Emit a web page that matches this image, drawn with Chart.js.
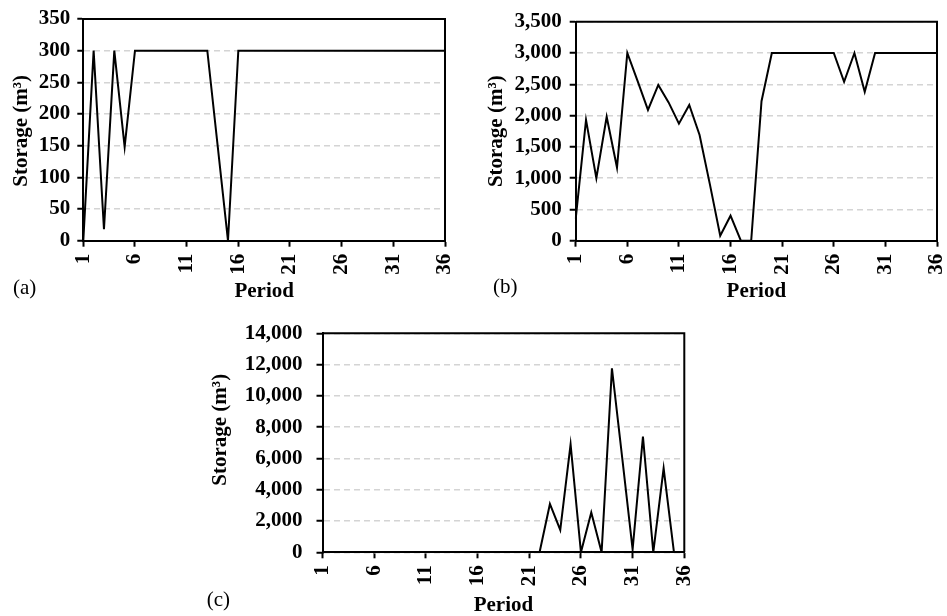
<!DOCTYPE html>
<html>
<head>
<meta charset="utf-8">
<script src="https://cdn.jsdelivr.net/npm/chart.js@4/dist/chart.umd.min.js"></script>
<style>
  html, body { margin: 0; padding: 0; background: #fff; overflow: hidden; width: 947px; height: 616px; }
  canvas { position: absolute; }
  #cA { left: 0px; top: 0px; }
  #cB { left: 470px; top: 0px; }
  #cC { left: 190px; top: 305px; }
</style>
</head>
<body>
<canvas id="cA" width="470" height="300"></canvas>
<canvas id="cB" width="510" height="300"></canvas>
<canvas id="cC" width="530" height="311"></canvas>
<script>
// Periods (categories) and the labelled ones on the x axis
const periods = ['1','2','3','4','5','6','7','8','9','10','11','12','13','14','15','16','17','18',
                 '19','20','21','22','23','24','25','26','27','28','29','30','31','32','33','34','35','36'];
const xTickLabels = ['1','6','11','16','21','26','31','36'];

// Storage (m³) per period
const storageA = [0, 300, 18, 300, 148, 300, 300, 300, 300, 300, 300, 300, 300, 150, 0, 300,
                  300, 300, 300, 300, 300, 300, 300, 300, 300, 300, 300, 300, 300, 300, 300, 300, 300, 300, 300, 300];
const storageB = [350, 1930, 1000, 1980, 1170, 3000, 2550, 2090, 2490, 2210, 1870, 2170, 1690, 900, 80, 400,
                  0, 0, 2230, 3000, 3000, 3000, 3000, 3000, 3000, 3000, 2540, 3000, 2380, 3000,
                  3000, 3000, 3000, 3000, 3000, 3000];
const storageC = [0, 0, 0, 0, 0, 0, 0, 0, 0, 0, 0, 0, 0, 0, 0, 0, 0, 0, 0, 0, 0, 0,
                  3090, 1430, 6900, 0, 2540, 0, 11760, 6000, 190, 7390, 0, 5370, 0, 0];

// Value-axis ranges
const yMaxA = 350, yStepA = 50;
const yMaxB = 3500, yStepB = 500;
const yMaxC = 14000, yStepC = 2000;

const panelLabels = ['(a)', '(b)', '(c)'];
const yTitle = 'Storage (m³)';
const xTitle = 'Period';

const SERIF = '"Liberation Serif", "Times New Roman", serif';

// Frame, axis titles and panel letter
const panelText = {
  id: 'panelText',
  beforeDatasetsDraw(chart, args, opts) {
    const { ctx, chartArea: a } = chart;
    ctx.save();
    ctx.strokeStyle = '#000';
    ctx.lineWidth = 2;
    ctx.beginPath();
    ctx.moveTo(a.left, a.top);
    ctx.lineTo(a.right, a.top);
    ctx.lineTo(a.right, a.bottom);
    ctx.stroke();
    ctx.restore();
  },
  afterDraw(chart, args, opts) {
    const { ctx, chartArea: a } = chart;
    ctx.save();
    ctx.fillStyle = '#000';
    // y title
    ctx.font = 'bold 21px ' + SERIF;
    ctx.textAlign = 'center';
    ctx.textBaseline = 'middle';
    ctx.save();
    ctx.translate(a.left - opts.yTitleDx, (a.top + a.bottom) / 2 + opts.yTitleDy);
    ctx.rotate(-Math.PI / 2);
    ctx.fillText(yTitle, 0, 0);
    ctx.restore();
    // x title
    ctx.fillText(xTitle, (a.left + a.right) / 2, a.bottom + opts.xTitleDy);
    // panel letter
    ctx.font = '21px ' + SERIF;
    ctx.textAlign = 'left';
    ctx.fillText(opts.label, a.left - opts.labelDx, a.bottom + opts.labelDy);
    ctx.restore();
  }
};

function makeChart(id, values, yMax, yStep, cfg) {
  return new Chart(document.getElementById(id), {
    type: 'line',
    data: {
      labels: periods,
      datasets: [{
        data: values,
        borderColor: '#000',
        borderWidth: 2,
        pointRadius: 0,
        tension: 0,
        fill: false
      }]
    },
    plugins: [panelText],
    options: {
      responsive: false,
      animation: false,
      locale: 'en-US',
      layout: { padding: cfg.padding },
      plugins: {
        legend: { display: false },
        tooltip: { enabled: false },
        panelText: cfg.text
      },
      scales: {
        x: {
          type: 'category',
          offset: false,
          afterFit(s) { s.height = cfg.xHeight; s.paddingLeft = 0; s.paddingRight = 0; },
          grid: {
            drawOnChartArea: false,
            drawTicks: true,
            tickLength: 6,
            tickWidth: 2,
            tickColor: (c) => xTickLabels.includes(periods[c.index]) ? '#000' : 'rgba(0,0,0,0)'
          },
          border: { display: true, color: '#000', width: 2 },
          ticks: {
            autoSkip: false,
            minRotation: 90,
            maxRotation: 90,
            padding: 7,
            color: '#000',
            font: { family: SERIF, size: 21, weight: 'bold' },
            callback: (v, i) => xTickLabels.includes(periods[i]) ? periods[i] : ''
          }
        },
        y: {
          min: 0,
          max: yMax,
          afterFit(s) { s.width = cfg.yWidth; s.paddingTop = 0; s.paddingBottom = 0; },
          grid: {
            color: '#d4d4d4',
            lineWidth: 1.5,
            drawTicks: true,
            tickLength: 6,
            tickWidth: 2,
            tickColor: '#000',
            tickBorderDash: []
          },
          border: { display: true, color: '#000', width: 2, dash: [6, 4] },
          ticks: {
            stepSize: yStep,
            padding: cfg.yPad,
            color: '#000',
            font: { family: SERIF, size: 21, weight: 'bold' },
            callback: (v) => v.toLocaleString('en-US')
          }
        }
      }
    }
  });
}

makeChart('cA', storageA, yMaxA, yStepA, {
  padding: { left: 0, top: 19, right: 25, bottom: 0 },
  yWidth: 83.3, xHeight: 59.3, yPad: 7,
  text: { label: panelLabels[0], yTitleDx: 62, yTitleDy: 1, xTitleDy: 51, labelDx: 70.3, labelDy: 48 }
});

makeChart('cB', storageB, yMaxB, yStepB, {
  padding: { left: 0, top: 21.7, right: 43, bottom: 0 },
  yWidth: 105.7, xHeight: 59.3, yPad: 8,
  text: { label: panelLabels[1], yTitleDx: 79, yTitleDy: 0, xTitleDy: 51, labelDx: 82.7, labelDy: 47 }
});

makeChart('cC', storageC, yMaxC, yStepC, {
  padding: { left: 0, top: 28.3, right: 35.7, bottom: 0 },
  yWidth: 132.5, xHeight: 63.7, yPad: 14,
  text: { label: panelLabels[2], yTitleDx: 101.5, yTitleDy: -13, xTitleDy: 53.7, labelDx: 115.8, labelDy: 48 }
});
</script>
</body>
</html>
